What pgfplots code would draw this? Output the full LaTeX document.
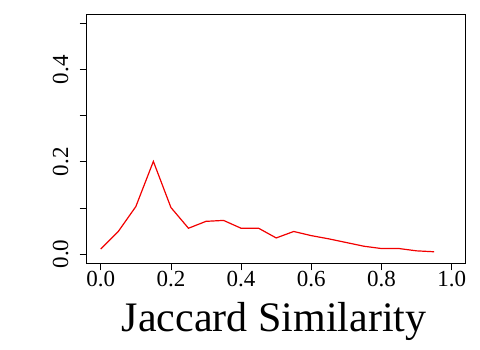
\documentclass[border=0pt]{standalone}
\usepackage{fontspec}
\setmainfont{Liberation Serif}
\usepackage{pgfplots}
\pgfplotsset{compat=1.18}

\begin{document}
\begin{tikzpicture}
\path[use as bounding box] (-86.7pt,-86.7pt) rectangle (393.3pt,263.3pt);
\begin{axis}[
  at={(0pt,0pt)}, anchor=south west,
  scale only axis,
  width=379pt, height=249pt,
  xmin=-0.04, xmax=1.04,
  ymin=-0.02, ymax=0.52,
  xtick={0,0.2,0.4,0.6,0.8,1.0},
  ytick={0,0.2,0.4},
  minor ytick={0.1,0.3,0.5},
  tick align=outside,
  tick pos=left,
  major tick length=7pt,
  minor tick length=7pt,
  every tick/.style={black, line width=0.8pt},
  axis line style={black, line width=0.8pt},
  /pgf/number format/.cd, fixed, fixed zerofill, precision=1, assume math mode=true,
  /pgfplots/.cd,
  tick label style={font=\fontsize{23}{23}\selectfont},
  xticklabel style={inner sep=1pt},
  yticklabel style={rotate=90, anchor=south, inner sep=11pt},
  xlabel={Jaccard Similarity},
  xlabel style={font=\fontsize{42}{42}\selectfont, at={(axis description cs:0.5,0)}, anchor=base, yshift=-68.4pt, xshift=-2pt},
]
% similarity distribution
\addplot[red!95!black, line width=1.2pt, no marks] coordinates {
  (0.00,0.011)(0.05,0.049)(0.10,0.103)(0.15,0.201)(0.20,0.101)
  (0.25,0.056)(0.30,0.071)(0.35,0.073)(0.40,0.056)(0.45,0.056)
  (0.50,0.035)(0.55,0.049)(0.60,0.040)(0.65,0.033)(0.70,0.025)
  (0.75,0.017)(0.80,0.012)(0.85,0.012)(0.90,0.007)(0.95,0.005)};
\end{axis}
\end{tikzpicture}
\end{document}
